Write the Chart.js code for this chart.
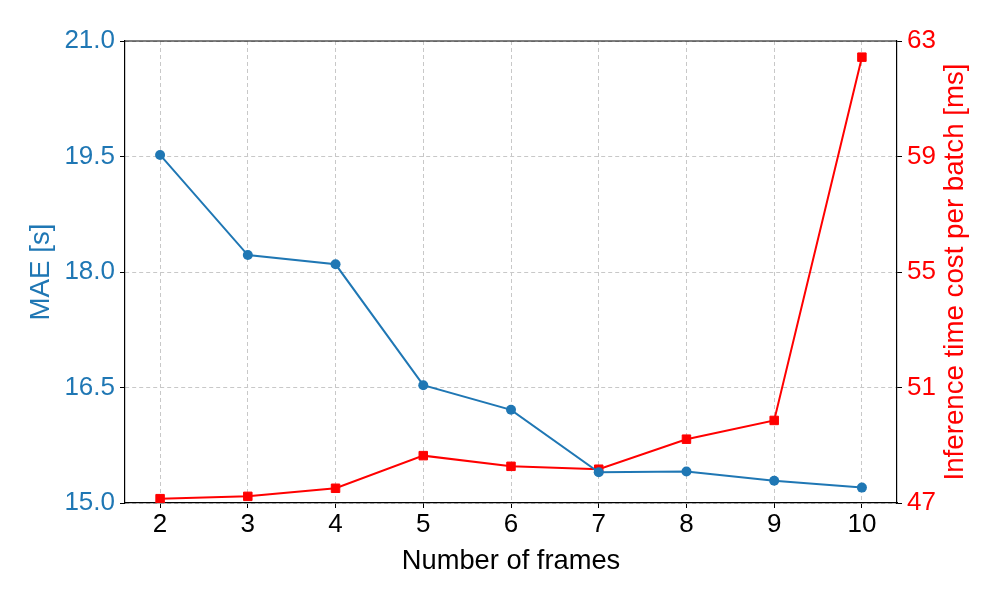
<!DOCTYPE html>
<html>
<head>
<meta charset="utf-8">
<script src="https://cdn.jsdelivr.net/npm/chart.js@4.4.1/dist/chart.umd.min.js"></script>
<style>
  html, body { margin: 0; padding: 0; background: #fff; }
  #wrap { width: 1000px; height: 600px; }
</style>
</head>
<body>
<div id="wrap"><canvas id="chart-main" width="1000" height="600"></canvas></div>
<script>
const frames = [2, 3, 4, 5, 6, 7, 8, 9, 10];
const maeValues = [19.52, 18.22, 18.10, 16.53, 16.21, 15.40, 15.41, 15.29, 15.20];
const timeValues = [47.15, 47.23, 47.51, 48.64, 48.27, 48.17, 49.21, 49.86, 62.44];
const maeTicks = [15.0, 16.5, 18.0, 19.5, 21.0];
const timeTicks = [47, 51, 55, 59, 63];
const rightTitle = "Inference time cost per batch [ms]";

const blue = "#1f77b4";
const red = "#ff0000";
const font = "'Liberation Sans', Arial, sans-serif";

const ctx1 = document.getElementById("chart-main");

// top spine + right axis title reading bottom-to-top (chart.js rotates it the other way)
const extras = {
  id: "extras",
  afterDraw(chart) {
    const a = chart.chartArea;
    const c = chart.ctx;
    c.save();
    c.strokeStyle = "#000";
    c.lineWidth = 1.2;
    c.beginPath();
    c.moveTo(a.left, a.top);
    c.lineTo(a.right, a.top);
    c.stroke();
    c.restore();

    c.save();
    c.translate(963, (a.top + a.bottom) / 2);
    c.rotate(-Math.PI / 2);
    c.fillStyle = red;
    c.font = "27.7px " + font;
    c.textAlign = "center";
    c.textBaseline = "alphabetic";
    c.fillText(rightTitle, 0, 0);
    c.restore();
  },
};

const mainChart = new Chart(ctx1, {
  type: "line",
  data: {
    datasets: [
      {
        label: "MAE [s]",
        data: frames.map((f, i) => ({ x: f, y: maeValues[i] })),
        borderColor: blue,
        backgroundColor: blue,
        borderWidth: 2,
        pointStyle: "circle",
        pointRadius: 5,
        pointBorderWidth: 0,
        yAxisID: "y",
      },
      {
        label: rightTitle,
        data: frames.map((f, i) => ({ x: f, y: timeValues[i] })),
        borderColor: red,
        backgroundColor: red,
        borderWidth: 2,
        pointStyle: "rect",
        pointRadius: 6,
        pointBorderWidth: 1,
        yAxisID: "y2",
      },
    ],
  },
  options: {
    responsive: false,
    animation: false,
    events: [],
    layout: { padding: { top: 41, left: 0, right: 0, bottom: 0 } },
    plugins: { legend: { display: false }, tooltip: { enabled: false } },
    scales: {
      x: {
        type: "linear",
        min: 1.6,
        max: 10.4,
        afterBuildTicks: (s) => { s.ticks = frames.map((v) => ({ value: v })); },
        afterFit: (s) => { s.height = 97; },
        ticks: { color: "#000", font: { family: font, size: 26 }, padding: 1, maxRotation: 0 },
        grid: { color: "#c8c8c8", tickColor: "#000", tickLength: 5, tickBorderDash: [] },
        border: { color: "#000", width: 1.2, dash: [4, 3] },
        title: { display: true, text: "Number of frames", color: "#000", font: { family: font, size: 27.3 }, padding: { top: 0, bottom: 22 } },
      },
      y: {
        position: "left",
        min: 15,
        max: 21,
        afterBuildTicks: (s) => { s.ticks = maeTicks.map((v) => ({ value: v })); },
        afterFit: (s) => { s.width = 125; },
        ticks: { color: blue, font: { family: font, size: 26 }, padding: 5, callback: (v) => v.toFixed(1) },
        grid: { color: "#c8c8c8", tickColor: "#000", tickLength: 5, tickBorderDash: [] },
        border: { color: "#000", width: 1.2, dash: [4, 3] },
        title: { display: true, text: "MAE [s]", color: blue, font: { family: font, size: 27.7 }, padding: { top: 25 } },
      },
      y2: {
        position: "right",
        min: 47,
        max: 63,
        afterBuildTicks: (s) => { s.ticks = timeTicks.map((v) => ({ value: v })); },
        afterFit: (s) => { s.width = 103; },
        ticks: { color: red, font: { family: font, size: 26 }, padding: 5 },
        grid: { drawOnChartArea: false, tickColor: "#000", tickLength: 5, tickBorderDash: [] },
        border: { color: "#000", width: 1.2 },
        title: { display: false },
      },
    },
  },
  plugins: [extras],
});
</script>
</body>
</html>
